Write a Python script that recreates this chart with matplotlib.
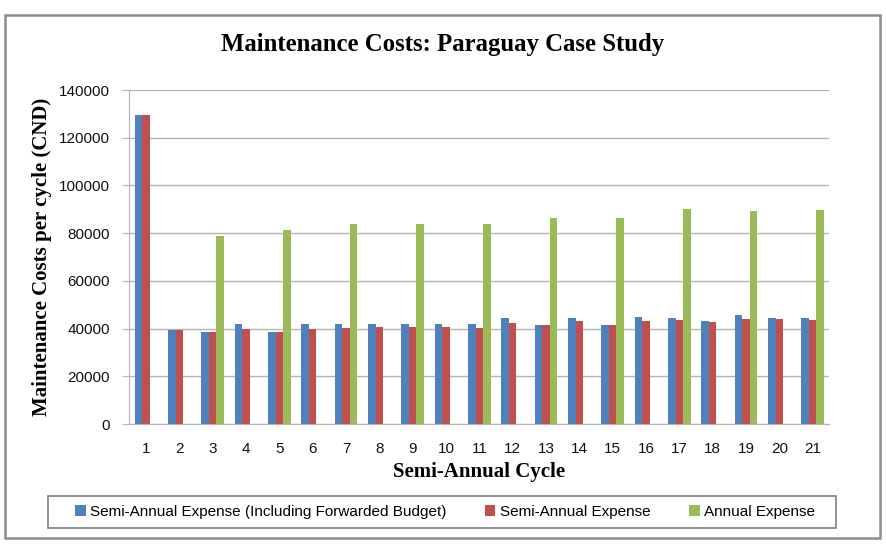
import matplotlib.pyplot as plt
import numpy as np
from matplotlib.patches import Rectangle

# semi-annual cycles and costs (CND)
cycles = list(range(1, 22))
semi_fwd = [129500, 39300, 38700, 41800, 38700, 41800, 41800, 41800, 41800, 41800, 41800,
            44600, 41700, 44600, 41700, 45000, 44600, 43200, 45700, 44600, 44600]
semi = [129500, 39300, 38500, 40000, 38500, 40000, 40400, 40800, 40800, 40800, 40400,
        42400, 41400, 43200, 41400, 43200, 43800, 42800, 44200, 44200, 43800]
annual = [0, 0, 78900, 0, 81200, 0, 83900, 0, 83900, 0, 83900,
          0, 86400, 0, 86400, 0, 90000, 0, 89100, 0, 89900]
y_ticks = list(range(0, 140001, 20000))

serif = ["Liberation Serif", "DejaVu Serif"]
sans = ["Liberation Sans", "DejaVu Sans"]
grid_col = "#B4B4B4"

fig = plt.figure(figsize=(8.86, 5.46), dpi=100)
ax = fig.add_axes([0.146, 0.2234, 0.79, 0.6116])

x = np.arange(len(cycles))
w = 0.225
ax.bar(x - w, semi_fwd, w, color="#4F81BD", label="Semi-Annual Expense (Including Forwarded Budget)")
ax.bar(x, semi, w, color="#C0504D", label="Semi-Annual Expense")
ax.bar(x + w, annual, w, color="#9BBB59", label="Annual Expense")

ax.set_xlim(-0.5, len(cycles) - 0.5)
ax.set_ylim(0, 140000)
ax.set_yticks(y_ticks)
ax.set_xticks(x)
ax.set_xticklabels([str(c) for c in cycles])
ax.yaxis.grid(True, color=grid_col, lw=1)
ax.set_axisbelow(True)

for side in ["top", "right"]:
    ax.spines[side].set_visible(False)
for side in ["left", "bottom"]:
    ax.spines[side].set_color(grid_col)
ax.tick_params(axis="y", length=5, color=grid_col, pad=9)
ax.tick_params(axis="x", length=0, pad=13)
for lab in ax.get_xticklabels() + ax.get_yticklabels():
    lab.set_family(sans)
    lab.set_fontsize(11)
    lab.set_color("#111111")

ax.set_xlabel("Semi-Annual Cycle", family=serif, fontsize=15, fontweight="bold", labelpad=4)
ax.set_ylabel("Maintenance Costs per cycle (CND)", family=serif, fontsize=15, fontweight="bold", labelpad=5)
fig.text(0.499, 0.919, "Maintenance Costs: Paraguay Case Study", family=serif, fontsize=17.8,
         fontweight="bold", ha="center", va="center")

leg = fig.legend(loc="center", bbox_to_anchor=(445 / 886, 1 - 512 / 546), ncol=3, frameon=False,
                 prop={"family": sans, "size": 11}, handlelength=0.7, handleheight=0.7,
                 handletextpad=0.3, columnspacing=2.5, borderpad=0, borderaxespad=0)

# legend box and outer chart frame
fig.patches.append(Rectangle((48 / 886, 1 - 528 / 546), 788 / 886, 32 / 546, transform=fig.transFigure,
                             fill=False, edgecolor="#7F7F7F", lw=1.2))
fig.patches.append(Rectangle((0.0056, 0.0147), 0.9876, 0.958, transform=fig.transFigure,
                             fill=False, edgecolor="#8C8C8C", lw=1.8))

fig.savefig("out.png", dpi=100)
